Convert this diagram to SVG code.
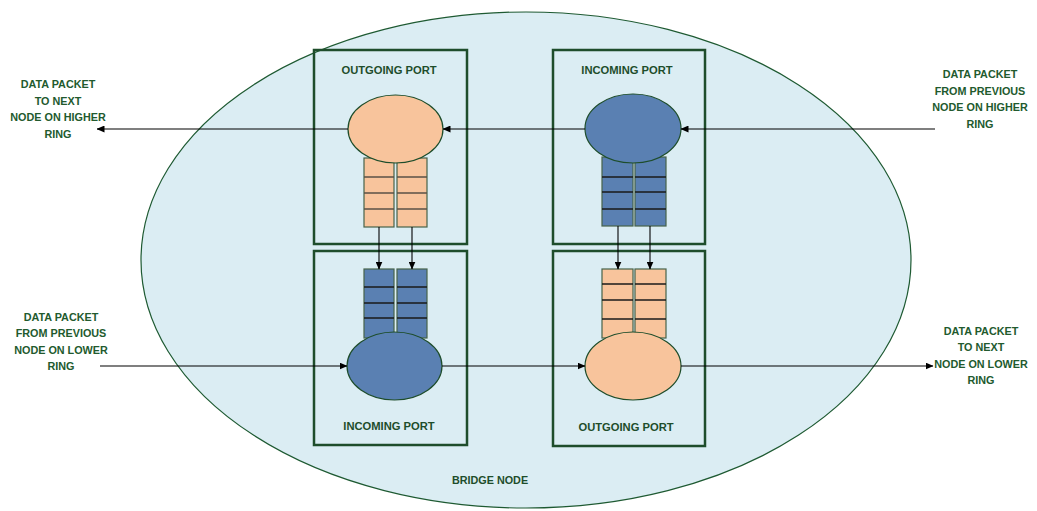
<svg xmlns="http://www.w3.org/2000/svg" width="1037" height="511" viewBox="0 0 1037 511">
  <defs>
    <marker id="arrow" markerUnits="userSpaceOnUse" markerWidth="8" markerHeight="7" refX="7.5" refY="3.5" orient="auto">
      <path d="M0,0 L8,3.5 L0,7 z" fill="#000"/>
    </marker>
    <style>
      .bridge { fill: #dbedf3; stroke: #1e5a32; stroke-width: 1.2; }
      .port { fill: none; stroke: #1e4d2b; stroke-width: 2.5; }
      .title { font-family: "Liberation Sans", Arial, sans-serif; font-weight: bold; font-size: 11.2px; fill: #1e4d2b; text-anchor: middle; }
      .label { font-family: "Liberation Sans", Arial, sans-serif; font-weight: bold; font-size: 10.8px; fill: #225a2e; text-anchor: middle; }
      .peach { fill: #f8c49c; }
      .blue { fill: #5a80b2; }
      .qcol { stroke: #46634a; stroke-width: 1.2; }
      .div-peach { stroke: #5a5046; stroke-width: 1.6; }
      .div-blue { stroke: #1a1a1a; stroke-width: 1.6; }
      .proc { stroke: #1e4d2b; stroke-width: 1.2; }
      .wire { fill: none; stroke: #000; stroke-width: 1.1; }
    </style>
  </defs>

  <rect width="1037" height="511" fill="#fff"/>

  <!-- bridge node outline -->
  <g id="bridge-node">
    <ellipse class="bridge" cx="526" cy="260" rx="385" ry="248"/>
    <text class="label" x="490" y="484" style="font-size:10.8px;fill:#1e4d2b">BRIDGE NODE</text>
  </g>

  <!-- upper ring: outgoing port -->
  <g id="port-out-high">
    <rect class="port" x="314" y="50" width="153" height="194"/>
    <text class="title" x="389" y="74">OUTGOING PORT</text>
    <rect class="peach qcol" x="364" y="158" width="30" height="69"/>
    <rect class="peach qcol" x="397" y="158" width="30" height="69"/>
    <path class="div-peach" d="M364,177H394M397,177H427M364,193H394M397,193H427M364,209H394M397,209H427"/>
    <ellipse class="peach proc" cx="395.5" cy="129" rx="47.5" ry="34"/>
  </g>

  <!-- upper ring: incoming port -->
  <g id="port-in-high">
    <rect class="port" x="553" y="50" width="152" height="194"/>
    <text class="title" x="627" y="74">INCOMING PORT</text>
    <rect class="blue qcol" x="602" y="157" width="31" height="69"/>
    <rect class="blue qcol" x="635" y="157" width="31" height="69"/>
    <path class="div-blue" d="M602,177H633M635,177H666M602,192H633M635,192H666M602,209H633M635,209H666"/>
    <ellipse class="blue proc" cx="633" cy="128.5" rx="48" ry="34.5"/>
  </g>

  <!-- lower ring: incoming port -->
  <g id="port-in-low">
    <rect class="port" x="314" y="251" width="153" height="194"/>
    <text class="title" x="389" y="430">INCOMING PORT</text>
    <rect class="blue qcol" x="364" y="269" width="30" height="69"/>
    <rect class="blue qcol" x="397" y="269" width="30" height="69"/>
    <path class="div-blue" d="M364,287H394M397,287H427M364,303H394M397,303H427M364,318H394M397,318H427"/>
    <ellipse class="blue proc" cx="394.5" cy="366" rx="47.5" ry="34"/>
  </g>

  <!-- lower ring: outgoing port -->
  <g id="port-out-low">
    <rect class="port" x="553" y="251" width="152" height="195"/>
    <text class="title" x="626" y="430.5">OUTGOING PORT</text>
    <rect class="peach qcol" x="602" y="269" width="31" height="69"/>
    <rect class="peach qcol" x="635" y="269" width="31" height="69"/>
    <path class="div-blue" d="M602,284H633M635,284H666M602,300H633M635,300H666M602,319H633M635,319H666"/>
    <ellipse class="peach proc" cx="633" cy="366" rx="48" ry="34"/>
  </g>

  <!-- external endpoints -->
  <g id="to-next-high">
    <text class="label" x="58" y="88">DATA PACKET</text>
    <text class="label" x="58" y="104.5">TO NEXT</text>
    <text class="label" x="58" y="121">NODE ON HIGHER</text>
    <text class="label" x="58" y="137.5">RING</text>
  </g>
  <g id="from-prev-high">
    <text class="label" x="980" y="78">DATA PACKET</text>
    <text class="label" x="980" y="94.5">FROM PREVIOUS</text>
    <text class="label" x="980" y="111">NODE ON HIGHER</text>
    <text class="label" x="980" y="127.5">RING</text>
  </g>
  <g id="from-prev-low">
    <text class="label" x="61" y="320.5">DATA PACKET</text>
    <text class="label" x="61" y="337">FROM PREVIOUS</text>
    <text class="label" x="61" y="353.5">NODE ON LOWER</text>
    <text class="label" x="61" y="369.5">RING</text>
  </g>
  <g id="to-next-low">
    <text class="label" x="981" y="334.5">DATA PACKET</text>
    <text class="label" x="981" y="351">TO NEXT</text>
    <text class="label" x="981" y="367.5">NODE ON LOWER</text>
    <text class="label" x="981" y="384">RING</text>
  </g>

  <!-- packet flow -->
  <g id="connectors">
    <line class="wire" x1="935" y1="129" x2="681" y2="129" marker-end="url(#arrow)"/>
    <line class="wire" x1="585" y1="129" x2="443" y2="129" marker-end="url(#arrow)"/>
    <line class="wire" x1="348" y1="129" x2="97" y2="129" marker-end="url(#arrow)"/>
    <line class="wire" x1="379" y1="227" x2="379" y2="269" marker-end="url(#arrow)"/>
    <line class="wire" x1="412" y1="227" x2="412" y2="269" marker-end="url(#arrow)"/>
    <line class="wire" x1="618" y1="226" x2="618" y2="269" marker-end="url(#arrow)"/>
    <line class="wire" x1="650" y1="226" x2="650" y2="269" marker-end="url(#arrow)"/>
    <line class="wire" x1="100" y1="366" x2="347" y2="366" marker-end="url(#arrow)"/>
    <line class="wire" x1="442" y1="366" x2="585" y2="366" marker-end="url(#arrow)"/>
    <line class="wire" x1="681" y1="366" x2="933" y2="366" marker-end="url(#arrow)"/>
  </g>
</svg>
